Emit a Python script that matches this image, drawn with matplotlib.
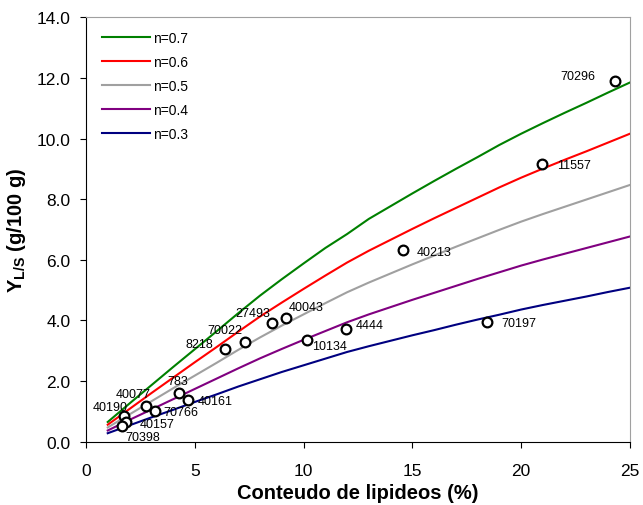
import matplotlib
matplotlib.use("Agg")
import matplotlib.pyplot as plt

plt.rcParams['font.family'] = ['Liberation Sans', 'DejaVu Sans']
plt.rcParams['mathtext.fontset'] = 'custom'
plt.rcParams['mathtext.rm'] = 'Liberation Sans'
plt.rcParams['mathtext.bf'] = 'Liberation Sans:bold'

# lipid content (%) used for the model curves
lipideos = list(range(1, 26))

# Y_L/S curves for each n
y_07 = [0.65, 1.26, 1.86, 2.46, 3.05, 3.64, 4.24, 4.82, 5.36, 5.88, 6.39, 6.85, 7.35,
        7.77, 8.19, 8.60, 9.00, 9.39, 9.79, 10.16, 10.51, 10.85, 11.18, 11.52, 11.85]
y_06 = [0.56, 1.08, 1.60, 2.11, 2.62, 3.12, 3.63, 4.13, 4.59, 5.04, 5.48, 5.91, 6.30,
        6.66, 7.02, 7.37, 7.71, 8.05, 8.39, 8.71, 9.01, 9.30, 9.58, 9.87, 10.16]
y_05 = [0.47, 0.90, 1.33, 1.76, 2.18, 2.60, 3.03, 3.44, 3.83, 4.20, 4.57, 4.93, 5.25,
        5.55, 5.85, 6.14, 6.43, 6.71, 6.99, 7.26, 7.51, 7.75, 7.99, 8.23, 8.47]
y_04 = [0.37, 0.72, 1.06, 1.40, 1.74, 2.08, 2.42, 2.75, 3.06, 3.36, 3.65, 3.94, 4.20,
        4.44, 4.68, 4.91, 5.14, 5.37, 5.59, 5.81, 6.01, 6.20, 6.39, 6.58, 6.77]
y_03 = [0.28, 0.54, 0.80, 1.05, 1.31, 1.56, 1.82, 2.06, 2.30, 2.52, 2.74, 2.96, 3.15,
        3.33, 3.51, 3.68, 3.86, 4.03, 4.19, 4.36, 4.51, 4.65, 4.79, 4.94, 5.08]

curvas = [y_07, y_06, y_05, y_04, y_03]
nomes = ["n=0.7", "n=0.6", "n=0.5", "n=0.4", "n=0.3"]
cores = ["#008000", "#ff0000", "#a0a0a0", "#800080", "#000080"]

# measured samples
amostras = ["70296", "11557", "40213", "70197", "4444", "10134", "40043", "27493",
            "70022", "8218", "783", "40161", "40077", "70766", "40190", "40157", "70398"]
lip_amostra = [24.31, 20.94, 14.55, 18.41, 11.93, 10.17, 9.18, 8.56,
               7.31, 6.39, 4.29, 4.70, 2.77, 3.18, 1.73, 1.85, 1.65]
y_amostra = [11.91, 9.15, 6.32, 3.96, 3.72, 3.37, 4.08, 3.91,
             3.30, 3.06, 1.60, 1.38, 1.19, 1.00, 0.84, 0.66, 0.53]

# label offsets (points) for each sample
desloc = [(-27, 3.6), (23, -0.7), (22.7, -1), (23.5, -1), (17.5, 3.1), (16.3, -4.3),
          (14.5, 7.7), (-13.9, 7.4), (-14.2, 8.6), (-18.7, 3.6), (-0.8, 8.9), (19.4, -0.5),
          (-9.2, 8.4), (18.7, -0.7), (-9.5, 6.9), (21.9, -1.9), (15.1, -7.9)]

fig = plt.figure(figsize=(6.43, 5.06), dpi=100)
ax = fig.add_axes([0.1337, 0.1251, 0.846, 0.8387])

for y, nome, cor in zip(curvas, nomes, cores):
    ax.plot(lipideos, y, color=cor, lw=1.5, label=nome)

ax.plot(lip_amostra, y_amostra, 'o', mfc='white', mec='black', ms=7, mew=1.6, zorder=5)
for nome, x, y, d in zip(amostras, lip_amostra, y_amostra, desloc):
    ax.annotate(nome, (x, y), xytext=d, textcoords='offset points',
                ha='center', va='center', fontsize=9, zorder=6)

ax.set_xlim(0, 25)
ax.set_ylim(0, 14)
ax.set_xticks([0, 5, 10, 15, 20, 25])
ax.set_yticks([0, 2, 4, 6, 8, 10, 12, 14])
ax.set_yticklabels(["%.1f" % v for v in ax.get_yticks()])
ax.tick_params(axis='x', direction='out', length=4, pad=11, labelsize=12.5)
ax.tick_params(axis='y', direction='out', length=4, pad=7, labelsize=12.5)

for s in ['top', 'right']:
    ax.spines[s].set_color('#a0a0a0')

ax.set_xlabel("Conteudo de lipideos (%)", fontsize=14.5, fontweight='bold', labelpad=4)
ax.set_ylabel(r"Y$_{\mathbf{L/S}}$ (g/100 g)", fontsize=14.5, fontweight='bold', labelpad=6)

ax.legend(loc='upper left', bbox_to_anchor=(0.03, 0.968), frameon=False, fontsize=10,
          borderaxespad=0, borderpad=0, handlelength=3.4, handletextpad=0.25,
          labelspacing=0.72)

fig.savefig("out.png", dpi=100)
